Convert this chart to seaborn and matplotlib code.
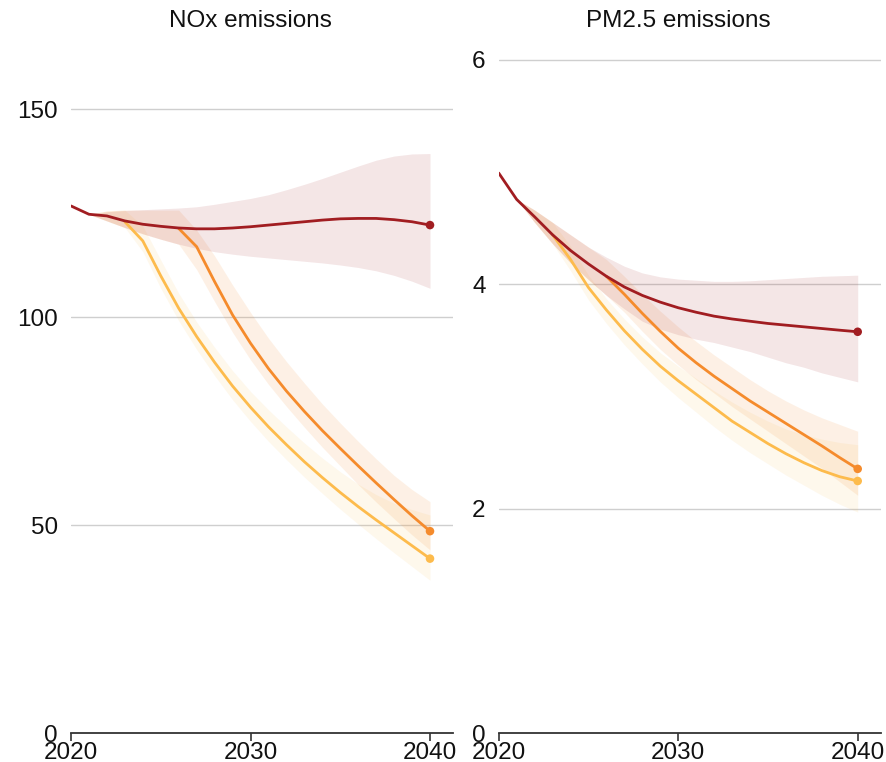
import numpy as np
import pandas as pd
import matplotlib
matplotlib.use("Agg")
import matplotlib.pyplot as plt
import seaborn as sns

sns.set_theme(style="white")
plt.rcParams["font.family"] = ["Liberation Sans", "DejaVu Sans"]

years = list(range(2020, 2041))
band_years = list(range(2021, 2041))

scenarios = ["Net Zero", "Announced Pledges", "Stated Policies"]
colors = {"Stated Policies": "#a11d21", "Announced Pledges": "#f58b2c", "Net Zero": "#fdbb4c"}
band_alpha = {"Stated Policies": 0.11, "Announced Pledges": 0.12, "Net Zero": 0.10}

# ---- NOx emissions ----
nox_stated = [126.8, 124.8, 124.4, 123.2, 122.4, 121.9, 121.5, 121.3, 121.3, 121.5, 121.8,
              122.2, 122.6, 123.0, 123.4, 123.7, 123.8, 123.8, 123.5, 123.0, 122.2]
nox_pledges = [None] * 6 + [121.4, 117.0, 108.6, 100.6, 93.8, 87.7, 82.3, 77.4, 72.8, 68.5,
                            64.3, 60.2, 56.2, 52.3, 48.6]
nox_netzero = [None] * 3 + [123.0, 118.4, 110.0, 102.2, 95.4, 89.2, 83.5, 78.4, 73.7, 69.4,
                            65.3, 61.5, 57.9, 54.5, 51.3, 48.2, 45.1, 42.0]

nox_stated_hi = [124.8, 125.4, 125.7, 125.9, 126.1, 126.3, 126.6, 127.2, 127.9, 128.6,
                 129.5, 130.7, 132.0, 133.4, 134.9, 136.4, 137.8, 138.8, 139.3, 139.4]
nox_stated_lo = [124.8, 123.2, 121.6, 120.1, 118.8, 117.6, 116.6, 115.8, 115.2, 114.7,
                 114.3, 113.9, 113.5, 113.1, 112.6, 112.0, 111.2, 110.1, 108.7, 107.0]
nox_pledges_hi = [124.8, 125.6, 125.8, 125.8, 125.8, 125.8, 121.0, 114.8, 107.8, 101.2,
                  95.0, 89.4, 84.2, 79.2, 74.6, 70.2, 66.0, 62.0, 58.6, 55.7]
nox_pledges_lo = [124.8, 123.2, 121.6, 120.1, 118.8, 117.6, 111.5, 103.8, 96.4, 89.8,
                  83.9, 78.6, 73.6, 68.8, 64.3, 59.8, 55.6, 51.6, 47.7, 44.1]
nox_netzero_hi = [124.8, 125.6, 125.8, 122.0, 113.8, 105.8, 98.9, 92.8, 87.2, 82.2,
                  77.8, 73.7, 69.8, 66.2, 62.9, 59.9, 57.4, 55.3, 53.8, 52.5]
nox_netzero_lo = [124.8, 123.2, 121.6, 115.8, 107.0, 99.2, 92.3, 86.0, 80.2, 75.0,
                  70.2, 65.8, 61.6, 57.7, 53.9, 50.3, 46.8, 43.4, 40.1, 36.8]

# ---- PM2.5 emissions ----
pm_stated = [4.99, 4.755, 4.60, 4.44, 4.30, 4.18, 4.07, 3.975, 3.90, 3.84, 3.79,
             3.75, 3.715, 3.69, 3.67, 3.65, 3.635, 3.62, 3.605, 3.59, 3.576]
pm_pledges = [None] * 6 + [4.07, 3.91, 3.74, 3.58, 3.43, 3.30, 3.18, 3.07, 2.96, 2.86,
                           2.76, 2.66, 2.56, 2.455, 2.355]
pm_netzero = [None] * 3 + [4.44, 4.22, 3.97, 3.77, 3.585, 3.42, 3.27, 3.14, 3.02, 2.90,
                           2.78, 2.68, 2.58, 2.49, 2.41, 2.34, 2.285, 2.247]

pm_stated_hi = [4.755, 4.66, 4.55, 4.44, 4.33, 4.24, 4.16, 4.10, 4.065, 4.045,
                4.035, 4.025, 4.025, 4.03, 4.04, 4.05, 4.06, 4.07, 4.075, 4.08]
pm_stated_lo = [4.755, 4.55, 4.36, 4.19, 4.04, 3.90, 3.78, 3.67, 3.60, 3.55,
                3.51, 3.48, 3.44, 3.40, 3.35, 3.30, 3.26, 3.21, 3.17, 3.13]
pm_pledges_hi = [4.755, 4.66, 4.55, 4.44, 4.33, 4.22, 4.07, 3.91, 3.76, 3.62,
                 3.49, 3.37, 3.26, 3.15, 3.05, 2.96, 2.88, 2.81, 2.75, 2.69]
pm_pledges_lo = [4.755, 4.55, 4.36, 4.19, 4.04, 3.90, 3.75, 3.58, 3.42, 3.28,
                 3.15, 3.03, 2.91, 2.80, 2.69, 2.58, 2.47, 2.36, 2.24, 2.12]
pm_netzero_hi = [4.755, 4.66, 4.55, 4.34, 4.08, 3.87, 3.69, 3.53, 3.39, 3.27,
                 3.16, 3.05, 2.95, 2.86, 2.78, 2.71, 2.66, 2.62, 2.59, 2.57]
pm_netzero_lo = [4.755, 4.55, 4.36, 4.12, 3.86, 3.65, 3.46, 3.29, 3.13, 2.99,
                 2.86, 2.73, 2.61, 2.50, 2.40, 2.30, 2.21, 2.12, 2.04, 1.97]

panels = [
    {
        "title": "NOx emissions",
        "lines": {"Stated Policies": nox_stated, "Announced Pledges": nox_pledges, "Net Zero": nox_netzero},
        "bands": {"Net Zero": (nox_netzero_lo, nox_netzero_hi),
                  "Announced Pledges": (nox_pledges_lo, nox_pledges_hi),
                  "Stated Policies": (nox_stated_lo, nox_stated_hi)},
        "yticks": [0, 50, 100, 150],
        "ymax": 165.5,
    },
    {
        "title": "PM2.5 emissions",
        "lines": {"Stated Policies": pm_stated, "Announced Pledges": pm_pledges, "Net Zero": pm_netzero},
        "bands": {"Net Zero": (pm_netzero_lo, pm_netzero_hi),
                  "Announced Pledges": (pm_pledges_lo, pm_pledges_hi),
                  "Stated Policies": (pm_stated_lo, pm_stated_hi)},
        "yticks": [0, 2, 4, 6],
        "ymax": 6.13,
    },
]

W, H = 887, 762
fig = plt.figure(figsize=(W / 100, H / 100), dpi=100)
ax_lefts = [71 / W, 498.7 / W]
ax_w = 382 / W
ax_bottom = (H - 733.3) / H
ax_h = (733.3 - 45) / H

for panel, left in zip(panels, ax_lefts):
    ax = fig.add_axes([left, ax_bottom, ax_w, ax_h])

    for name, (lo, hi) in panel["bands"].items():
        ax.fill_between(band_years, lo, hi, color=colors[name], alpha=band_alpha[name],
                        linewidth=0, zorder=1)

    rows = []
    for name in scenarios:
        for yr, v in zip(years, panel["lines"][name]):
            if v is not None:
                rows.append({"year": yr, "value": v, "scenario": name})
    df = pd.DataFrame(rows)

    sns.lineplot(data=df, x="year", y="value", hue="scenario", hue_order=scenarios,
                 palette=colors, linewidth=2.0, legend=False, ax=ax, zorder=3)
    ends = df[df["year"] == 2040]
    sns.scatterplot(data=ends, x="year", y="value", hue="scenario", hue_order=scenarios,
                    palette=colors, s=38, edgecolor="none", legend=False, ax=ax, zorder=4)

    ax.set_xlim(2020, 2020 + 382 / 17.95)
    ax.set_ylim(0, panel["ymax"])
    ax.set_xticks([2020, 2030, 2040])
    ax.set_xticklabels(["2020", "2030", "2040"])
    ax.set_yticks(panel["yticks"])
    ax.set_yticklabels([str(t) for t in panel["yticks"]])
    ax.set_xlabel("")
    ax.set_ylabel("")

    for y in panel["yticks"][1:]:
        ax.axhline(y, color="#cfcfcf", linewidth=1.0, zorder=0)

    for side in ["top", "right", "left"]:
        ax.spines[side].set_visible(False)
    ax.spines["bottom"].set_color("#333333")
    ax.spines["bottom"].set_linewidth(1.3)
    ax.tick_params(axis="x", length=6, width=1.2, color="#333333", pad=0.5,
                   labelsize=17.5, labelcolor="#111111", bottom=True)
    ax.tick_params(axis="y", length=0, pad=9.5, labelsize=17.5, labelcolor="#111111")
    ax.grid(False)

    ax.text(2030, (733.3 - 32) / (733.3 - 45), panel["title"],
            transform=ax.get_xaxis_transform(),
            ha="center", va="bottom", fontsize=17.5, color="#111111")

fig.savefig("out.png", dpi=100, facecolor="white")
